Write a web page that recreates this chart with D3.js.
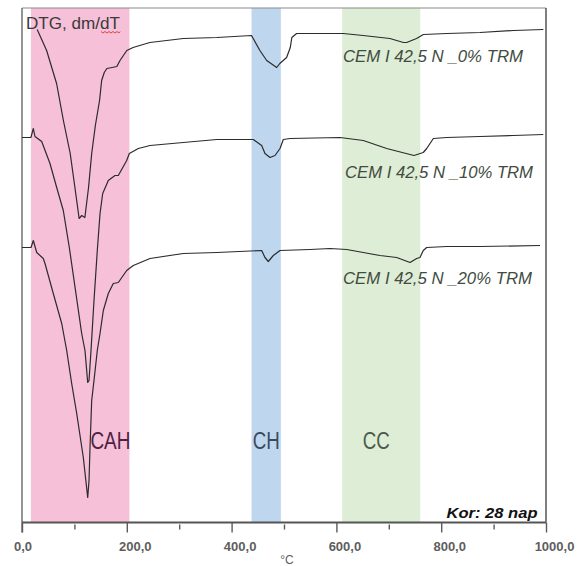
<!DOCTYPE html>
<html><head><meta charset="utf-8">
<script src="https://cdn.jsdelivr.net/npm/d3@7"></script>
<style>body{margin:0;background:#fff;} svg{display:block;}</style>
</head><body><svg id="c" width="588" height="566"></svg>
<script>
// ---- data ----
const xTicksMajor = [0, 200, 400, 600, 800, 1000];
const xTicksMinor = [100, 300, 500, 700, 900];

const bandNames = ["CAH", "CH", "CC"];
const bandStart = [17, 438, 611];
const bandEnd   = [205, 494, 760];

const seriesNames = ["CEM I 42,5 N _0% TRM", "CEM I 42,5 N _10% TRM", "CEM I 42,5 N _20% TRM"];

const temp0 = [29,47,66,79,92,101,109,114,120,127,133,140,148,152,157,162,172,181,187,200,212,244,308,372,438,454,467,486,492,505,512,515,524,555,613,651,702,728,734,753,766,811,874,938,995];
const dtg0  = [49.3,47.2,43.9,40.2,36.9,33.5,30.4,30.7,30.5,33.5,36.9,39.7,42.2,44.2,45.0,45.4,45.5,45.6,46.2,47.2,47.5,48.0,48.4,48.5,48.7,47.2,46.2,45.5,45.9,46.5,47.5,48.5,48.9,48.9,48.9,48.7,48.4,48.0,48.0,48.4,48.8,48.9,49.0,49.2,49.3];

const temp10 = [0,17,21.6,24.8,37.6,53.4,66.2,78.8,90.3,113.9,120.2,125.4,127.9,131.7,137.4,143.7,148.9,154,164.7,177.5,183.8,199.8,204.8,222,244.3,307.8,371.6,441.4,457.4,463.7,473.3,482.8,492.4,498.7,511.5,606.9,651.3,696,740.5,748.1,765.8,772.3,785,810.5,874,937.6,994.8];
const dtg10  = [38.5,38.5,39.4,38.6,38.1,35.9,33.5,31.2,27.5,18.9,17.2,14.0,14.2,17.2,22.2,27.2,30.9,32.9,34.2,34.7,34.7,36.2,36.9,37.4,37.7,38.0,38.3,38.3,37.7,36.9,36.5,36.7,37.4,38.3,38.4,38.5,38.2,37.4,36.8,36.7,37.0,37.4,38.4,38.5,38.6,38.7,38.8];

const temp20 = [0,17.2,21.6,28.1,40.6,43.9,59.7,75.8,85.3,94.8,104.4,117,125.4,127.9,129.8,133,137.4,143.7,148.9,155.2,164.7,174.2,183.8,199.8,204.8,212.4,244.3,307.8,371.6,457.4,463.7,470,479.6,492.4,549.6,587.8,619.7,651.3,683.2,715.1,740.5,753.2,759.5,765.8,772.3,810.5,874,988.5];
const dtg20  = [27.5,27.5,28.2,27.0,26.4,25.9,22.9,19.9,17.2,13.9,10.9,6.5,2.5,4.2,7.5,12.2,14.2,17.2,18.9,21.2,22.9,23.9,24.0,25.2,25.4,25.7,26.4,26.9,27.0,27.2,26.5,26.1,26.7,27.2,27.3,27.4,27.3,27.0,26.7,26.5,26.0,26.4,26.5,27.2,27.5,27.6,27.6,27.7];

// ---- layout ----
const svg = d3.select("#c");
const L = 22, R = 546, T = 8, B = 522.5;
const x = d3.scaleLinear().domain([0, 1000]).range([L, R]);
const y = d3.scaleLinear().domain([0, 51.45]).range([B, T]);

const bandColors = ["#f5c0d8", "#bed7ee", "#deedd5"];
const bandTextColors = ["#4f2142", "#3b4a5f", "#4b5a4b"];

// bands
svg.selectAll("rect.band").data(bandNames).enter().append("rect")
  .attr("x", (d,i) => x(bandStart[i]))
  .attr("width", (d,i) => x(bandEnd[i]) - x(bandStart[i]))
  .attr("y", T).attr("height", B - T)
  .attr("fill", (d,i) => bandColors[i]);

// band labels
const bandLabelWidths = [40, 27, 27];
svg.selectAll("text.bandlab").data(bandNames).enter().append("text")
  .attr("x", (d,i) => i === 0 ? x(bandStart[i]) + 59.5 : (x(bandStart[i]) + x(bandEnd[i])) / 2 + (i === 2 ? -5 : 0))
  .attr("y", 448.5)
  .attr("text-anchor", (d,i) => i === 0 ? "start" : "middle")
  .attr("textLength", (d,i) => bandLabelWidths[i])
  .attr("lengthAdjust", "spacingAndGlyphs")
  .attr("font-family", "Liberation Sans, Arial, sans-serif")
  .attr("font-size", 23)
  .attr("fill", (d,i) => bandTextColors[i])
  .text(d => d);

// frame
svg.append("line").attr("x1", L).attr("x2", R).attr("y1", T).attr("y2", T)
  .attr("stroke", "#8a8a8a").attr("stroke-width", 1);
svg.append("line").attr("x1", R).attr("x2", R).attr("y1", T).attr("y2", B)
  .attr("stroke", "#3a3a3a").attr("stroke-width", 1.3);
svg.append("line").attr("x1", L).attr("x2", L).attr("y1", T).attr("y2", B + 10)
  .attr("stroke", "#666").attr("stroke-width", 1.4);

// curves
const line = d3.line().x(d => x(d[0])).y(d => y(d[1]));
const series = [
  d3.zip(temp0, dtg0),
  d3.zip(temp10, dtg10),
  d3.zip(temp20, dtg20)
];
svg.selectAll("path.curve").data(series).enter().append("path")
  .attr("d", line)
  .attr("fill", "none")
  .attr("stroke", "#2b2b2b")
  .attr("stroke-width", 1.2)
  .attr("stroke-linejoin", "round");

// series labels
const labY = [61.5, 177.5, 283.5];
const labW = [180, 188, 189];
svg.selectAll("text.slab").data(seriesNames).enter().append("text")
  .attr("x", (d,i) => i === 1 ? 345 : 343)
  .attr("y", (d,i) => labY[i])
  .attr("textLength", (d,i) => labW[i])
  .attr("lengthAdjust", "spacingAndGlyphs")
  .attr("font-family", "Liberation Sans, Arial, sans-serif")
  .attr("font-style", "italic")
  .attr("font-size", 16)
  .attr("fill", "#414b41")
  .text(d => d);

// x axis
const fmt = d => d3.format(".1f")(d).replace(".", ",");
const gMaj = svg.append("g").attr("transform", `translate(0,${B})`)
  .call(d3.axisBottom(x).tickValues(xTicksMajor).tickSize(10).tickPadding(9).tickFormat(fmt));
gMaj.select(".domain").remove();
gMaj.selectAll(".tick line").attr("stroke", "#5a5a5a").attr("stroke-width", 1.4);
gMaj.selectAll(".tick text")
  .attr("font-family", "Liberation Sans, Arial, sans-serif")
  .attr("font-weight", "bold")
  .attr("font-size", 13)
  .attr("fill", "#5e5e5e")
  .attr("dx", (d,i) => i === 0 ? 0.5 : 8);

const gMin = svg.append("g").attr("transform", `translate(0,${B + 2})`)
  .call(d3.axisBottom(x).tickValues(xTicksMinor).tickSize(5).tickFormat(""));
gMin.select(".domain").remove();
gMin.selectAll(".tick line").attr("stroke", "#5a5a5a").attr("stroke-width", 1.4);

svg.append("line").attr("x1", L).attr("x2", R).attr("y1", B).attr("y2", B)
  .attr("stroke", "#555").attr("stroke-width", 1.8);

svg.append("text").attr("x", 287).attr("y", 563.5).attr("text-anchor", "middle")
  .attr("font-family", "Liberation Sans, Arial, sans-serif")
  .attr("font-size", 12).attr("fill", "#5e5e5e").text("°C");

// y label
const yl = svg.append("text").attr("x", 26).attr("y", 28.5)
  .attr("font-family", "Liberation Sans, Arial, sans-serif")
  .attr("font-size", 17).attr("fill", "#3a3a3a")
  .attr("textLength", 94).attr("lengthAdjust", "spacingAndGlyphs")
  .text("DTG, dm/dT");
const node = yl.node();
const full = node.getComputedTextLength();
const scale = 94 / full;
const sx = 26 + node.getSubStringLength(0, 8) * (scale > 0.5 && scale < 2 ? 1 : 1);
const ex = 26 + 94;
let sq = `M${ex - 19},31.5`;
for (let px = ex - 19, k = 0; px < ex; px += 2, k++) sq += ` L${Math.min(px + 2, ex)},${k % 2 ? 31.5 : 33}`;
svg.append("path").attr("d", sq).attr("fill", "none").attr("stroke", "#e0342f").attr("stroke-width", 0.9);

// note
svg.append("text").attr("x", 537.5).attr("y", 517.5).attr("text-anchor", "end")
  .attr("font-family", "Liberation Sans, Arial, sans-serif")
  .attr("font-size", 14.5).attr("font-weight", "bold").attr("font-style", "italic")
  .attr("textLength", 91).attr("lengthAdjust", "spacingAndGlyphs")
  .attr("fill", "#111").text("Kor: 28 nap");
</script></body></html>
